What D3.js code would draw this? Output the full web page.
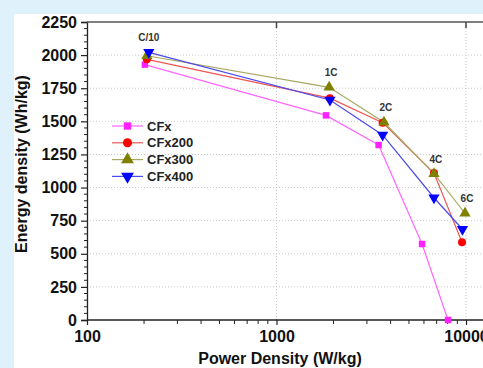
<!DOCTYPE html>
<html>
<head>
<meta charset="utf-8">
<script src="https://cdn.jsdelivr.net/npm/d3@7"></script>
<style>
  body { margin: 0; background: #dff1fa; }
  svg { display: block; font-family: "Liberation Sans", Arial, sans-serif; }
</style>
</head>
<body>
<div id="chart"></div>
<script>
// data
const seriesNames = ["CFx", "CFx200", "CFx300", "CFx400"];
const powerCFx    = [202, 1824, 3459, 5863, 8035];
const energyCFx   = [1928, 1545, 1321, 574, 0];
const powerCFx200 = [207, 1914, 3631, 6776, 9528];
const energyCFx200 = [1968, 1675, 1490, 1110, 587];
const powerCFx300 = [207, 1896, 3690, 6776, 9880];
const energyCFx300 = [1995, 1757, 1493, 1105, 806];
const powerCFx400 = [212, 1914, 3631, 6776, 9580];
const energyCFx400 = [2021, 1661, 1397, 923, 685];
const rateLabels = ["C/10", "1C", "2C", "4C", "6C"];
const xTicks = [100, 1000, 10000];
const yTicks = [0, 250, 500, 750, 1000, 1250, 1500, 1750, 2000, 2250];

let width = 483, height = 368;

let svg = d3.select("#chart").append("svg")
    .attr("width", width)
    .attr("height", height);

// white panel
svg.append("rect")
    .attr("x", 14).attr("y", 14)
    .attr("width", width).attr("height", height)
    .attr("fill", "white");

let x = d3.scaleLog().domain([100, 10000]).range([87, 466]);
let y = d3.scaleLinear().domain([0, 2250]).range([320, 22]);
let plotRight = 520;

// grid lines
let grid = svg.append("g").attr("stroke", "#c8c8c8").attr("stroke-dasharray", "1,2");
grid.selectAll("line.h").data(yTicks.slice(1, -1)).enter().append("line")
    .attr("x1", 87).attr("x2", plotRight)
    .attr("y1", d => y(d)).attr("y2", d => y(d));
grid.selectAll("line.v").data([1000, 10000]).enter().append("line")
    .attr("y1", 22).attr("y2", 320)
    .attr("x1", d => x(d)).attr("x2", d => x(d));

// axes
let xAxis = d3.axisBottom(x).tickValues(xTicks).tickFormat(d3.format("d")).tickSize(5).tickPadding(6);
let gx = svg.append("g").attr("transform", "translate(0,320)").call(xAxis);
let minorX = [];
[100, 1000].forEach(b => { for (let k = 2; k <= 9; k++) minorX.push(b * k); });
gx.selectAll("line.minor").data(minorX).enter().append("line")
    .attr("class", "minor")
    .attr("x1", d => x(d)).attr("x2", d => x(d))
    .attr("y1", 0).attr("y2", 4)
    .attr("stroke", "#222");

let yAxis = d3.axisLeft(y).tickValues(yTicks).tickFormat(d3.format("d")).tickSize(6).tickPadding(4);
let gy = svg.append("g").attr("transform", "translate(87,0)").call(yAxis);
let minorY = d3.range(0, 2250, 50).filter(v => v % 250 !== 0);
gy.selectAll("line.minor").data(minorY).enter().append("line")
    .attr("class", "minor")
    .attr("x1", -3).attr("x2", 0)
    .attr("y1", d => y(d)).attr("y2", d => y(d))
    .attr("stroke", "#222");

[gx, gy].forEach(g => {
    g.select(".domain").attr("stroke", "#222").attr("stroke-width", 1.3);
    g.selectAll(".tick line").attr("stroke", "#222").attr("stroke-width", 1.2);
    g.selectAll(".tick text").attr("fill", "#111").style("font-size", "16px").style("font-weight", "bold");
});
gx.select(".domain").attr("d", "M87,0H" + plotRight);

// top frame with inward ticks
svg.append("line").attr("x1", 87).attr("x2", plotRight).attr("y1", 22).attr("y2", 22)
    .attr("stroke", "#555").attr("stroke-width", 1.5);
svg.selectAll("line.topTick").data(xTicks.slice(1)).enter().append("line")
    .attr("x1", d => x(d)).attr("x2", d => x(d))
    .attr("y1", 22).attr("y2", 28)
    .attr("stroke", "#444").attr("stroke-width", 1.5);

// axis titles
svg.append("text")
    .attr("x", 280).attr("y", 364)
    .attr("text-anchor", "middle")
    .style("font-size", "16px").style("font-weight", "bold").attr("fill", "#111")
    .text("Power Density (W/kg)");
svg.append("text")
    .attr("transform", "translate(27,164) rotate(-90)")
    .attr("text-anchor", "middle")
    .style("font-size", "16px").style("font-weight", "bold").attr("fill", "#111")
    .text("Energy density (Wh/kg)");

// series
let series = [
    { name: seriesNames[0], px: powerCFx, e: energyCFx, line: "#ff66ff", fill: "#ff22ff", sym: d3.symbolSquare, size: 42, rot: 0 },
    { name: seriesNames[1], px: powerCFx200, e: energyCFx200, line: "#ee5555", fill: "#ff0000", sym: d3.symbolCircle, size: 50, rot: 0 },
    { name: seriesNames[2], px: powerCFx300, e: energyCFx300, line: "#a8a860", fill: "#808000", sym: d3.symbolTriangle, size: 55, rot: 0 },
    { name: seriesNames[3], px: powerCFx400, e: energyCFx400, line: "#4a4aee", fill: "#0000ff", sym: d3.symbolTriangle, size: 55, rot: 180 }
];

let line = d3.line().x(d => x(d[0])).y(d => y(d[1]));

series.forEach(s => {
    let pts = s.px.map((p, i) => [p, s.e[i]]);
    svg.append("path")
        .attr("d", line(pts))
        .attr("fill", "none")
        .attr("stroke", s.line)
        .attr("stroke-width", 1.2);
});
series.forEach(s => {
    let pts = s.px.map((p, i) => [p, s.e[i]]);
    svg.selectAll(null).data(pts).enter().append("path")
        .attr("d", d3.symbol().type(s.sym).size(s.size))
        .attr("transform", d => "translate(" + x(d[0]) + "," + y(d[1]) + ") rotate(" + s.rot + ")")
        .attr("fill", s.fill);
});

// rate labels placed above the highest point at each rate
let labelPos = rateLabels.map((t, i) => ({ t: t, p: powerCFx300[i], e: Math.max(energyCFx300[i], energyCFx400[i]) }));
svg.selectAll("text.rate").data(labelPos).enter().append("text")
    .attr("class", "rate")
    .attr("x", d => x(d.p) + 2)
    .attr("y", d => y(d.e) - 11)
    .attr("text-anchor", "middle")
    .style("font-size", "10px").style("font-weight", "bold").attr("fill", "#333")
    .text(d => d.t);

// legend
let legend = svg.append("g").attr("transform", "translate(112,126)");
series.forEach((s, i) => {
    let g = legend.append("g").attr("transform", "translate(0," + i * 16.8 + ")");
    g.append("line").attr("x1", 0).attr("x2", 31).attr("stroke", s.line).attr("stroke-width", 1.2);
    g.append("path")
        .attr("d", d3.symbol().type(s.sym).size(s.size * 1.3))
        .attr("transform", "translate(15.5,0) rotate(" + s.rot + ")")
        .attr("fill", s.fill);
    g.append("text")
        .attr("x", 35).attr("dy", "0.35em")
        .style("font-size", "13px").style("font-weight", "bold").attr("fill", "#222")
        .text(s.name);
});
</script>
</body>
</html>
